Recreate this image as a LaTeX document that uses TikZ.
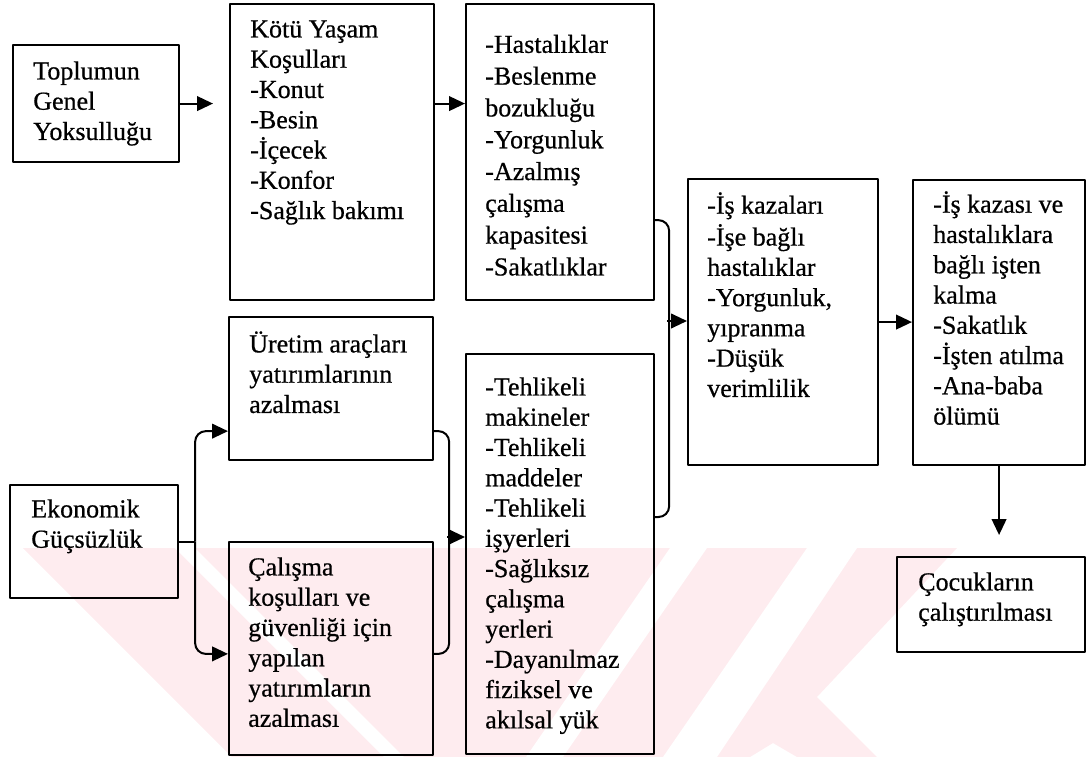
\documentclass[tikz,border=0pt]{standalone}
\usepackage{fontspec}
\setmainfont{Liberation Serif}[FakeBold=0.6]
\usetikzlibrary{positioning,arrows.meta}
\definecolor{wmpink}{RGB}{254,236,239}
\begin{document}
\begin{tikzpicture}[x=.75pt,y=-.75pt,>={Triangle[length=12pt,width=11pt]},line join=round,
 box/.style={draw,line width=1.6pt,inner sep=0pt,anchor=north west},
 txt/.style={inner sep=0pt,align=left,anchor=north west,font=\fontsize{19.5}{22.7}\selectfont},
 link/.style={line width=1.5pt}]
 \useasboundingbox (0,0) rectangle (1086,757);
 % watermark
 \fill[wmpink] (23,548)--(957,548)--(817,697)--(877,757)--(797,757)--(773,743)--(750,757)--(232,757)--cycle;
 \fill[white] (175,548)--(195,548)--(404,757)--(384,757)--cycle
  (670,548)--(707,548)--(563,757)--(526,757)--cycle
  (807,548)--(857,548)--(717,757)--(663,757)--cycle;
 % boxes
 \node[box,minimum width=124.5pt,minimum height=87.75pt] (top) at (12,44) {};
 \node[box,minimum width=153pt,minimum height=222pt] (kotu) at (229,3) {};
 \node[box,minimum width=141pt,minimum height=222pt] (has) at (465,3) {};
 \node[box,minimum width=142.5pt,minimum height=214.5pt] (mid) at (687,178) {};
 \node[box,minimum width=129pt,minimum height=213.75pt] (out) at (912,179) {};
 \node[box,minimum width=141pt,minimum height=71.25pt] (coc) at (896,556) {};
 \node[box,minimum width=153pt,minimum height=107.25pt] (ure) at (228,316) {};
 \node[box,minimum width=126pt,minimum height=84.75pt] (eko) at (9,484) {};
 \node[box,minimum width=153pt,minimum height=159.75pt] (calis) at (228,541) {};
 \node[box,minimum width=141pt,minimum height=300pt] (teh) at (465,353) {};
 % texts
 \node[txt,below right=10.5pt and 15.75pt of top.north west] (top-t) {\strut Toplumun\\Genel\\Yoksulluğu};
 \node[txt,below right=9.75pt and 15.75pt of kotu.north west] (kotu-t) {\strut Kötü Yaşam\\Koşulları\\-Konut\\-Besin\\-İçecek\\-Konfor\\-Sağlık bakımı};
 \node[txt,below right=20.5pt and 15pt of has.north west,font=\fontsize{19.5}{23.85}\selectfont] (has-t) {\strut -Hastalıklar\\-Beslenme\\bozukluğu\\-Yorgunluk\\-Azalmış\\çalışma\\kapasitesi\\-Sakatlıklar};
 \node[txt,below right=10.5pt and 15pt of mid.north west] (mid-t) {\strut -İş kazaları\\-İşe bağlı\\hastalıklar\\-Yorgunluk,\\yıpranma\\-Düşük\\verimlilik};
 \node[txt,below right=9pt and 15.75pt of out.north west] (out-t) {\strut -İş kazası ve\\hastalıklara\\bağlı işten\\kalma\\-Sakatlık\\-İşten atılma\\-Ana-baba\\ölümü};
 \node[txt,below right=9.75pt and 16.5pt of coc.north west] (coc-t) {\strut Çocukların\\çalıştırılması};
 \node[txt,below right=11.25pt and 15.75pt of ure.north west] (ure-t) {\strut Üretim araçları\\yatırımlarının\\azalması};
 \node[txt,below right=9pt and 16.5pt of eko.north west] (eko-t) {\strut Ekonomik\\Güçsüzlük};
 \node[txt,below right=9.75pt and 15pt of calis.north west] (calis-t) {\strut Çalışma\\koşulları ve\\güvenliği için\\yapılan\\yatırımların\\azalması};
 \node[txt,below right=15.75pt and 15pt of teh.north west] (teh-t) {\strut -Tehlikeli\\makineler\\-Tehlikeli\\maddeler\\-Tehlikeli\\işyerleri\\-Sağlıksız\\çalışma\\yerleri\\-Dayanılmaz\\fiziksel ve\\akılsal yük};
 % connectors
 \draw[link,->,shorten >=12pt] (top.east) -- (top.east -| kotu.west);
 \draw[link,->] (top.east -| kotu.east) -- (top.east -| has.west);
 \coordinate[right=12pt of eko.east] (split);
 \draw[link] (eko.east) -- (split);
 \draw[link,->,rounded corners=8pt] (split) |- ([yshift=22.5pt]ure.south west);
 \draw[link,->,rounded corners=8pt] (split) |- ([yshift=-4pt]calis.west);
 \draw[link,rounded corners=8pt] ([yshift=22.5pt]ure.south east) -- ++(15,0) |- ([yshift=-4pt]calis.east);
 \coordinate (j1) at (447,537);
 \draw[link,->] (j1) -- (j1 -| teh.west);
 \draw[link,rounded corners=8pt] ([yshift=60.75pt]has.south east) -- ++(14,0) |- ([yshift=-123pt]teh.north east);
 \coordinate (j2) at (667,321);
 \draw[link,->] (j2) -- (j2 -| mid.west);
 \draw[link,->] (mid.east) -- (mid.east -| out.west);
 \draw[link,->,shorten >=15.75pt] (out.south) -- (out.south |- coc.north);
\end{tikzpicture}
\end{document}
